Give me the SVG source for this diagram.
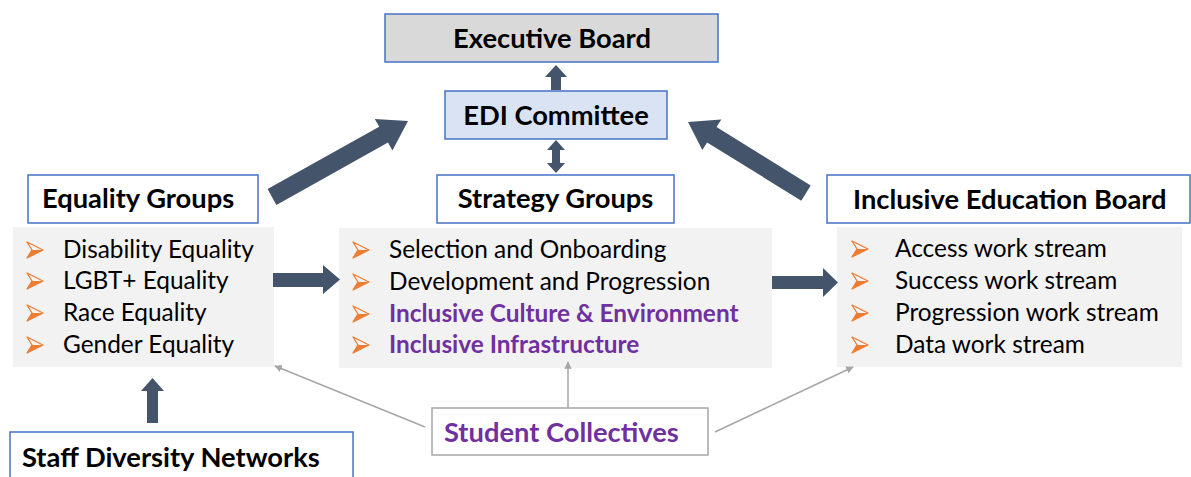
<svg xmlns="http://www.w3.org/2000/svg" width="1191" height="477" viewBox="0 0 1191 477">
<style>
.box{fill:#ffffff;stroke:#4472c4;stroke-width:1.5}
.list{fill:#f2f2f2}
.title{font-family:Lato,"Liberation Sans",sans-serif;font-weight:bold;font-size:27.3px;fill:#000}
.item{font-family:Lato,"Liberation Sans",sans-serif;font-size:24.4px;fill:#000}
.purple{fill:#7030a0;font-weight:bold}
.big{fill:#44546a}
.thin{stroke:#a6a6a6;stroke-width:1.5;fill:none;marker-end:url(#gh)}
</style>
<defs>
<marker id="gh" viewBox="0 0 10 10" refX="9" refY="5" markerWidth="5" markerHeight="5" orient="auto" markerUnits="strokeWidth">
<path d="M0,0 L10,5 L0,10 z" fill="#a6a6a6"/>
</marker>
<g id="bul">
<path d="M0,0 L16,8 L0,16 L5,8 z" fill="none" stroke="#ed7d31" stroke-width="1.3" stroke-linejoin="round"/>
<path d="M5,8 L16,8 L0,16 z" fill="#ed7d31"/>
</g>
</defs>

<g id="executive-board">
<rect x="385" y="14" width="333" height="48" fill="#d9d9d9" stroke="#4472c4" stroke-width="1.5"/>
<text class="title" x="552" y="48" text-anchor="middle">Executive Board</text>
</g>

<g id="edi-committee">
<rect x="445" y="91" width="222" height="48" fill="#dae3f3" stroke="#4472c4" stroke-width="1.5"/>
<text class="title" x="556" y="125" text-anchor="middle">EDI Committee</text>
</g>

<g id="equality-groups">
<rect class="box" x="28" y="175" width="230" height="48"/>
<text class="title" x="42" y="208">Equality Groups</text>
<rect class="list" x="13" y="227" width="261" height="140"/>
<use href="#bul" x="27" y="242"/>
<use href="#bul" x="27" y="273"/>
<use href="#bul" x="27" y="305"/>
<use href="#bul" x="27" y="337"/>
<text class="item" x="63" y="258">Disability Equality</text>
<text class="item" x="63" y="289">LGBT+ Equality</text>
<text class="item" x="63" y="321">Race Equality</text>
<text class="item" x="63" y="353">Gender Equality</text>
</g>

<g id="strategy-groups">
<rect class="box" x="437" y="175" width="237" height="48"/>
<text class="title" x="555.5" y="208" text-anchor="middle">Strategy Groups</text>
<rect class="list" x="339" y="228" width="433" height="140"/>
<use href="#bul" x="353" y="242"/>
<use href="#bul" x="353" y="274"/>
<use href="#bul" x="353" y="306"/>
<use href="#bul" x="353" y="337"/>
<text class="item" x="389" y="258">Selection and Onboarding</text>
<text class="item" x="389" y="290">Development and Progression</text>
<text class="item purple" x="389" y="322">Inclusive Culture &amp; Environment</text>
<text class="item purple" x="389" y="353">Inclusive Infrastructure</text>
</g>

<g id="inclusive-education-board">
<rect class="box" x="827" y="175" width="363" height="48"/>
<text class="title" x="853" y="209">Inclusive Education Board</text>
<rect class="list" x="837" y="227" width="345" height="140"/>
<use href="#bul" x="852" y="241"/>
<use href="#bul" x="852" y="273"/>
<use href="#bul" x="852" y="305"/>
<use href="#bul" x="852" y="337"/>
<text class="item" x="895" y="257">Access work stream</text>
<text class="item" x="895" y="289">Success work stream</text>
<text class="item" x="895" y="321">Progression work stream</text>
<text class="item" x="895" y="353">Data work stream</text>
</g>

<g id="staff-diversity-networks">
<rect class="box" x="10" y="432" width="343" height="55"/>
<text class="title" x="22" y="467">Staff Diversity Networks</text>
</g>

<g id="student-collectives">
<rect x="432" y="408" width="276" height="47" fill="#ffffff" stroke="#a6a6a6" stroke-width="1.5"/>
<text class="title" x="444" y="442" style="fill:#7030a0">Student Collectives</text>
</g>

<g id="connectors">
<path class="big" d="M556,65 L567,77 L561,77 L561,90 L551,90 L551,77 L545,77 z"/>
<path class="big" d="M556,140 L565,150 L560,150 L560,163 L565,163 L556,173 L547,163 L552,163 L552,150 L547,150 z"/>
<path class="big" d="M267.6,189.1 L379.2,126.8 L374.8,119 L408,121 L392.4,150.4 L388,142.6 L276.4,204.9 z"/>
<path class="big" d="M810.7,185.4 L716.5,127.1 L721.3,119.4 L688,122 L702.3,150 L707.1,142.4 L801.3,200.7 z"/>
<path class="big" d="M273,273 L323,273 L323,265 L340,279.5 L323,294 L323,287 L273,287 z"/>
<path class="big" d="M772,276 L823,276 L823,268 L838,282.5 L823,297 L823,289 L772,289 z"/>
<path class="big" d="M152.5,378 L164,391 L158,391 L158,423 L147,423 L147,391 L141,391 z"/>
<line class="thin" x1="425" y1="427" x2="275" y2="366"/>
<line class="thin" x1="568" y1="408" x2="568" y2="362"/>
<line class="thin" x1="715" y1="432" x2="853" y2="367"/>
</g>
</svg>
